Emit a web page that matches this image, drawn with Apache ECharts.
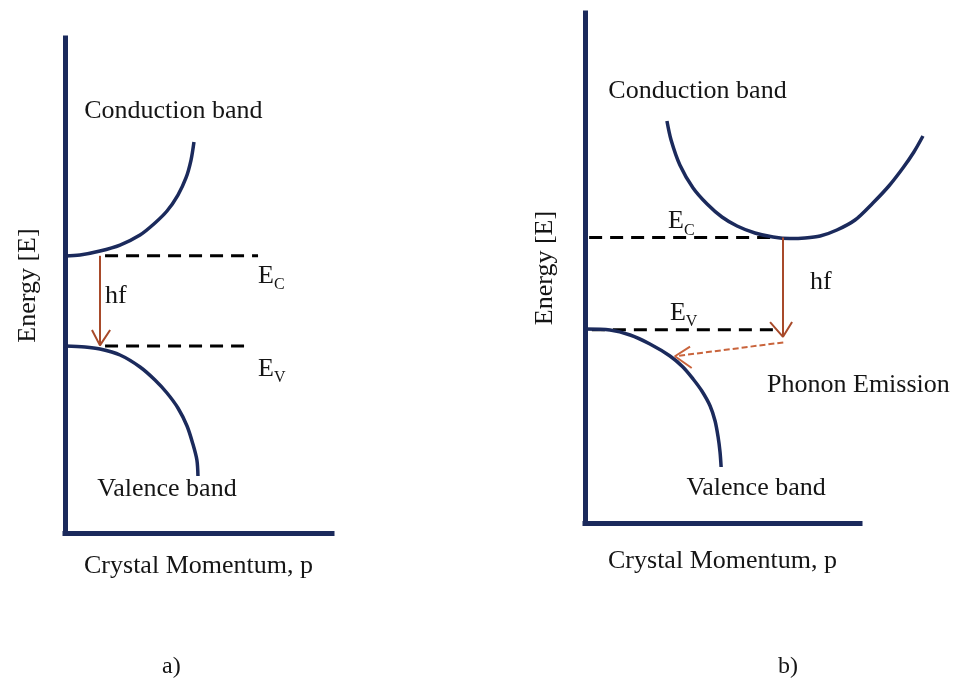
<!DOCTYPE html>
<html><head><meta charset="utf-8">
<script src="https://cdn.jsdelivr.net/npm/echarts@6/dist/echarts.min.js"></script>
<style>html,body{margin:0;padding:0;background:#fff}#c{width:962px;height:682px}</style>
</head><body><div id="c"></div>
<script>
// ---------- Panel a) direct band gap (data units 0..100 on both axes) ----------
const aConduction = [[0,55.96],[5.6,56.16],[13.1,56.97],[20.6,58.18],[28.1,60.20],[33.7,62.63],[38.2,65.05],[42.3,68.28],[45.3,71.72],[47.2,75.35],[48.3,78.99]];
const aValence    = [[0,37.78],[7.5,37.58],[13.1,37.17],[20.6,35.96],[28.1,33.54],[33.7,30.91],[38.2,28.28],[42.3,25.25],[45.7,21.62],[47.9,17.98],[49.4,14.75],[49.8,11.52]];
const aEcLevel    = [[15.0,56.0],[72.3,56.0]];
const aEvLevel    = [[15.0,37.8],[70.0,37.8]];
const aPhoton     = [[13.1,56.0],[13.1,37.9]];
const aPhotonHead = [[10.1,41.0],[13.1,37.9],[16.9,41.0]];

// ---------- Panel b) indirect band gap ----------
const bConduction = [[29.8,78.82],[31.3,75.10],[34.5,70.20],[39.3,65.69],[44.4,62.55],[49.8,60.00],[55.3,58.24],[61.8,56.86],[68.4,56.08],[74.5,55.78],[80.0,55.88],[85.5,56.27],[91.6,57.45],[98.2,59.41],[104.7,62.75],[110.5,66.08],[115.6,69.61],[119.6,72.75],[122.9,75.88]];
const bValence    = [[0,38.04],[9.1,37.84],[16.4,36.86],[23.6,35.10],[30.9,32.75],[35.6,30.59],[39.3,28.24],[42.5,25.88],[45.5,22.94],[47.3,20.0],[48.4,16.86],[49.1,13.92],[49.5,10.98]];
const bEcLevel    = [[1.5,56.0],[68.4,56.0]];
const bEvLevel    = [[2.5,37.9],[69.8,37.9]];
const bPhoton     = [[72.0,56.0],[72.0,36.6]];
const bPhotonHead = [[67.3,39.4],[72.0,36.5],[75.3,39.4]];
const bPhonon     = [[72.1,35.4],[32.7,32.7]];
const bPhononHead = [[38.2,34.6],[32.7,32.7],[38.8,30.4]];

// ---------- Text ----------
const yAxisName = 'Energy [E]';
const xAxisName = 'Crystal Momentum, p';
const aCenterLabels = [['Conduction band',[40.6,85.3]],['Valence band',[38.2,8.9]]];
const aLeftLabels   = [['{e|E}{s|C}',[72.3,51.9]],['hf',[15.0,47.9]],['{e|E}{s|V}',[72.3,33.1]]];
const bCenterLabels = [['Conduction band',[40.9,84.6]],['Valence band',[62.2,6.8]]];
const bLeftLabels   = [['{e|E}{s|C}',[30.2,59.1]],['hf',[81.8,47.3]],['{e|E}{s|V}',[30.9,41.2]],['Phonon Emission',[66.2,27.1]]];
const panelTitles   = ['a)','b)'];

const FONT = 'Liberation Serif';
const NAVY = '#1b2a5c';
const BROWN = '#a84a2a';
const PHONON = '#c9643c';
const TXT = '#151515';

const rich = {
  e: {fontFamily: FONT, fontSize: 26, color: TXT, lineHeight: 34, verticalAlign: 'middle'},
  s: {fontFamily: FONT, fontSize: 16, color: TXT, lineHeight: 16, verticalAlign: 'bottom'}
};

function axisPair(g, nameGapX, nameGapY) {
  const line = {show: true, onZero: false, lineStyle: {color: NAVY, width: 5, cap: 'square'}};
  return [
    {gridIndex: g, type: 'value', min: 0, max: 100, axisLine: line, axisTick: {show: false},
     axisLabel: {show: false}, splitLine: {show: false},
     name: xAxisName, nameLocation: 'middle', nameGap: nameGapX,
     nameTextStyle: {fontFamily: FONT, fontSize: 26, color: TXT}},
    {gridIndex: g, type: 'value', min: 0, max: 100, axisLine: line, axisTick: {show: false},
     axisLabel: {show: false}, splitLine: {show: false},
     name: yAxisName, nameLocation: 'middle', nameGap: nameGapY, nameRotate: 90,
     nameTextStyle: {fontFamily: FONT, fontSize: 26, color: TXT}}
  ];
}
// invisible wider coordinate system sharing panel b's units (so the conduction band can extend past the x axis end)
function hiddenAxes(g, xmax) {
  const hid = {show: false};
  return [
    {gridIndex: g, type: 'value', min: 0, max: xmax, show: false, axisLine: hid, splitLine: hid},
    {gridIndex: g, type: 'value', min: 0, max: 100, show: false, axisLine: hid, splitLine: hid}
  ];
}

function band(g, data) {
  return {type: 'line', xAxisIndex: g, yAxisIndex: g, data: data, smooth: 0.3, symbol: 'none',
    clip: false, silent: true, lineStyle: {color: NAVY, width: 3.5}};
}
function level(g, data) {
  return {type: 'line', xAxisIndex: g, yAxisIndex: g, data: data, symbol: 'none', clip: false,
    silent: true, lineStyle: {color: '#000', width: 3, type: [13, 8]}};
}
function arrowLine(g, data, color, width, dash) {
  return {type: 'line', xAxisIndex: g, yAxisIndex: g, data: data, symbol: 'none', clip: false,
    silent: true, lineStyle: {color: color, width: width, type: dash || 'solid'}};
}
function labels(g, list, position) {
  return {type: 'scatter', xAxisIndex: g, yAxisIndex: g, symbolSize: 0, clip: false, silent: true,
    itemStyle: {opacity: 1},
    data: list.map(function (d) { return {value: d[1], name: d[0]}; }),
    label: {show: true, position: position, distance: 0, formatter: '{b}', opacity: 1,
      fontFamily: FONT, fontSize: 26, color: TXT, rich: rich}};
}

const xa = axisPair(0, 20, 24), xb = axisPair(1, 25, 27), xh = hiddenAxes(2, 130);

const option = {
  backgroundColor: '#fff',
  animation: false,
  title: [
    {text: panelTitles[0], left: 157, top: 650, textStyle: {fontFamily: FONT, fontSize: 24, fontWeight: 'normal', color: TXT}},
    {text: panelTitles[1], left: 773, top: 650, textStyle: {fontFamily: FONT, fontSize: 24, fontWeight: 'normal', color: TXT}}
  ],
  grid: [
    {left: 65, top: 38, width: 267, height: 495},
    {left: 585, top: 13, width: 275, height: 510},
    {left: 585, top: 13, width: 357.5, height: 510}
  ],
  xAxis: [xa[0], xb[0], xh[0]],
  yAxis: [xa[1], xb[1], xh[1]],
  series: [
    level(0, aEcLevel), level(0, aEvLevel),
    band(0, aConduction), band(0, aValence),
    arrowLine(0, aPhoton, BROWN, 2), arrowLine(0, aPhotonHead, BROWN, 2),
    labels(0, aCenterLabels, 'inside'), labels(0, aLeftLabels, 'right'),

    level(1, bEcLevel), level(1, bEvLevel),
    band(2, bConduction), band(1, bValence),
    arrowLine(1, bPhoton, BROWN, 2), arrowLine(1, bPhotonHead, BROWN, 2),
    arrowLine(1, bPhonon, PHONON, 2, [6, 3]), arrowLine(1, bPhononHead, PHONON, 2),
    labels(1, bCenterLabels, 'inside'), labels(1, bLeftLabels, 'right')
  ]
};

const chart = echarts.init(document.getElementById('c'), null, {renderer: 'canvas'});
chart.setOption(option);
</script>
</body></html>
